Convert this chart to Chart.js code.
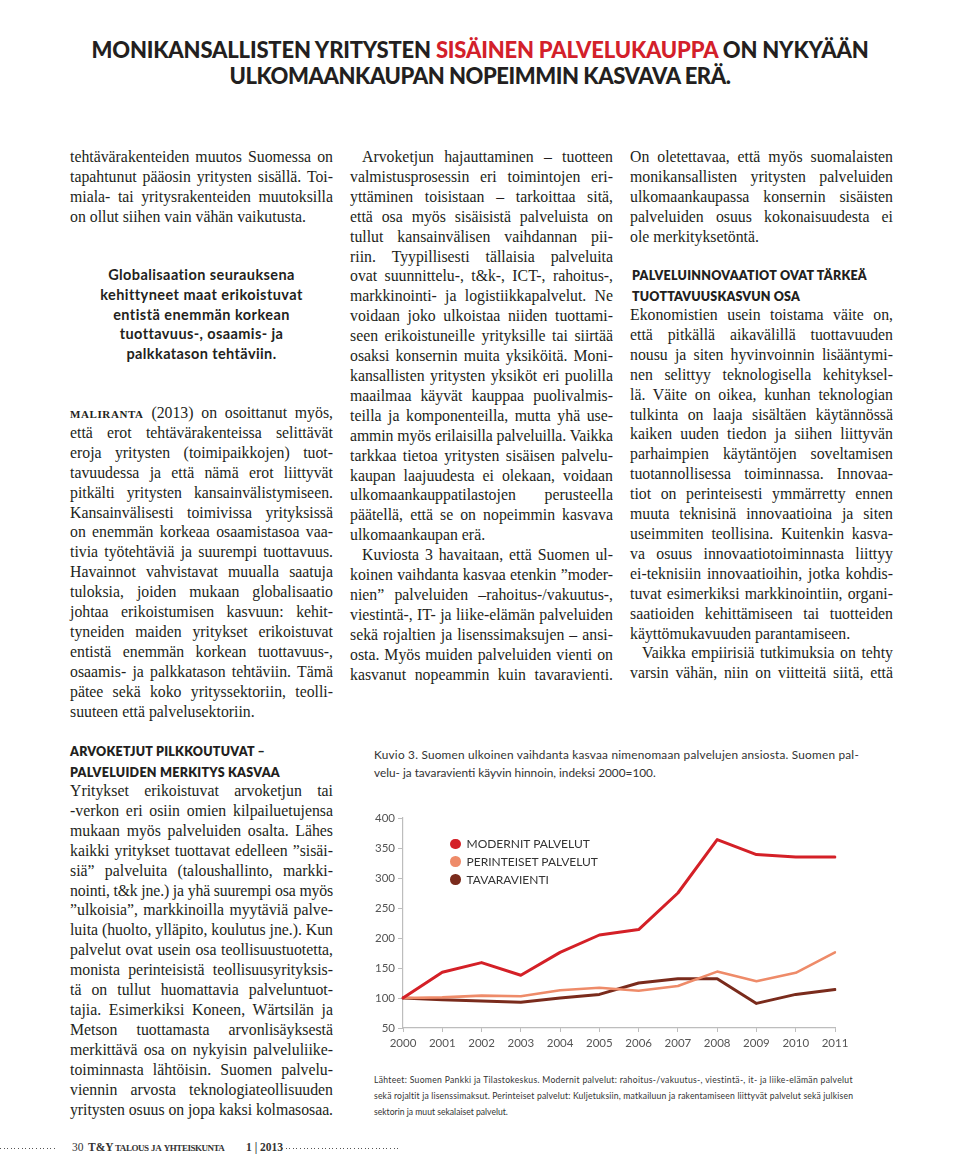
<!DOCTYPE html>
<html lang="fi">
<head>
<meta charset="utf-8">
<title>Kuvio 3</title>
<script src="https://cdn.jsdelivr.net/npm/chart.js@4.4.1/dist/chart.umd.min.js"></script>
<style>
  html, body { margin: 0; padding: 0; background: #fff; }
  body { width: 960px; height: 1157px; position: relative; overflow: hidden; color: #231f20; }
  .abs { position: absolute; }
  .title { left: 0; width: 960px; top: 37px; font-family: Lato, sans-serif; font-weight: 900; font-size: 22px; line-height: 26px; text-align: center; }
  .title .l { white-space: nowrap; }
  .red { color: #d3202a; }
  .col { font-family: "Liberation Serif", serif; font-size: 15.8px; line-height: 19.9px; width: 263px; }
  .col .l { white-space: nowrap; }
  .i { padding-left: 12px; }
  .sc { font-variant: small-caps; font-weight: bold; letter-spacing: 0.6px; }
  .quote { font-family: Lato, sans-serif; font-weight: 700; font-size: 14.5px; line-height: 19.8px; width: 263px; text-align: center; }
  .quote .l { white-space: nowrap; }
  .head { font-family: Lato, sans-serif; font-weight: 800; font-size: 12.5px; line-height: 21px; }
  .head .l { white-space: nowrap; }
  .cap { left: 374px; top: 746px; font-family: Lato, sans-serif; font-size: 11.8px; line-height: 18px; color: #333; }
  .cap .l, .src .l { white-space: nowrap; }
  .src { left: 374px; top: 1072px; font-family: Lato, sans-serif; font-size: 8.6px; line-height: 16px; color: #333; }
  #chartBox { left: 361px; top: 805px; width: 500px; height: 247px; }
  #legend { left: 450px; top: 835px; font-family: Lato, sans-serif; font-size: 12px; color: #333; }
  #legend div { height: 17.8px; line-height: 17.8px; white-space: nowrap; }
  #legend span { display: inline-block; width: 10.5px; height: 10.5px; border-radius: 50%; margin-right: 6px; vertical-align: -1px; }
  .foot { top: 1140px; font-family: "Liberation Serif", serif; font-size: 11.5px; line-height: 14px; color: #333; white-space: nowrap; }
  .dots { height: 1px; top: 1148px; background: repeating-linear-gradient(to right, #555 0 1px, transparent 1px 3.6px); }
</style>
</head>
<body>

<div class="abs title">
  <div class="l" data-w="777">MONIKANSALLISTEN YRITYSTEN <span class="red">SISÄINEN PALVELUKAUPPA</span> ON NYKYÄÄN</div>
  <div class="l" data-w="501">ULKOMAANKAUPAN NOPEIMMIN KASVAVA ERÄ.</div>
</div>

<!-- palsta 1 -->
<div class="abs col" style="left:70px; top:147px;">
  <div class="l j">tehtävärakenteiden muutos Suomessa on</div>
  <div class="l j">tapahtunut pääosin yritysten sisällä. Toi-</div>
  <div class="l j">miala- tai yritysrakenteiden muutoksilla</div>
  <div class="l">on ollut siihen vain vähän vaikutusta.</div>
</div>

<div class="abs quote" style="left:70px; top:265px;">
  <div class="l" data-w="187">Globalisaation seurauksena</div>
  <div class="l" data-w="202">kehittyneet maat erikoistuvat</div>
  <div class="l" data-w="177">entistä enemmän korkean</div>
  <div class="l" data-w="163">tuottavuus-, osaamis- ja</div>
  <div class="l" data-w="150">palkkatason tehtäviin.</div>
</div>

<div class="abs col" style="left:70px; top:403px;">
  <div class="l j"><span class="sc">maliranta</span> (2013) on osoittanut myös,</div>
  <div class="l j">että erot tehtävärakenteissa selittävät</div>
  <div class="l j">eroja yritysten (toimipaikkojen) tuot-</div>
  <div class="l j">tavuudessa ja että nämä erot liittyvät</div>
  <div class="l j">pitkälti yritysten kansainvälistymiseen.</div>
  <div class="l j">Kansainvälisesti toimivissa yrityksissä</div>
  <div class="l j">on enemmän korkeaa osaamistasoa vaa-</div>
  <div class="l j">tivia työtehtäviä ja suurempi tuottavuus.</div>
  <div class="l j">Havainnot vahvistavat muualla saatuja</div>
  <div class="l j">tuloksia, joiden mukaan globalisaatio</div>
  <div class="l j">johtaa erikoistumisen kasvuun: kehit-</div>
  <div class="l j">tyneiden maiden yritykset erikoistuvat</div>
  <div class="l j">entistä enemmän korkean tuottavuus-,</div>
  <div class="l j">osaamis- ja palkkatason tehtäviin. Tämä</div>
  <div class="l j">pätee sekä koko yrityssektoriin, teolli-</div>
  <div class="l">suuteen että palvelusektoriin.</div>
</div>

<div class="abs head" style="left:70px; top:741px;">
  <div class="l" data-w="195">ARVOKETJUT PILKKOUTUVAT –</div>
  <div class="l" data-w="210">PALVELUIDEN MERKITYS KASVAA</div>
</div>

<div class="abs col" style="left:70px; top:781px;">
  <div class="l j">Yritykset erikoistuvat arvoketjun tai</div>
  <div class="l j">-verkon eri osiin omien kilpailuetujensa</div>
  <div class="l j">mukaan myös palveluiden osalta. Lähes</div>
  <div class="l j">kaikki yritykset tuottavat edelleen ”sisäi-</div>
  <div class="l j">siä” palveluita (taloushallinto, markki-</div>
  <div class="l j">nointi, t&amp;k jne.) ja yhä suurempi osa myös</div>
  <div class="l j">”ulkoisia”, markkinoilla myytäviä palve-</div>
  <div class="l j">luita (huolto, ylläpito, koulutus jne.). Kun</div>
  <div class="l j">palvelut ovat usein osa teollisuustuotetta,</div>
  <div class="l j">monista perinteisistä teollisuusyrityksis-</div>
  <div class="l j">tä on tullut huomattavia palveluntuot-</div>
  <div class="l j">tajia. Esimerkiksi Koneen, Wärtsilän ja</div>
  <div class="l j">Metson tuottamasta arvonlisäyksestä</div>
  <div class="l j">merkittävä osa on nykyisin palveluliike-</div>
  <div class="l j">toiminnasta lähtöisin. Suomen palvelu-</div>
  <div class="l j">viennin arvosta teknologiateollisuuden</div>
  <div class="l j">yritysten osuus on jopa kaksi kolmasosaa.</div>
</div>

<!-- palsta 2 -->
<div class="abs col" style="left:350px; top:147px;">
  <div class="l j i">Arvoketjun hajauttaminen – tuotteen</div>
  <div class="l j">valmistusprosessin eri toimintojen eri-</div>
  <div class="l j">yttäminen toisistaan – tarkoittaa sitä,</div>
  <div class="l j">että osa myös sisäisistä palveluista on</div>
  <div class="l j">tullut kansainvälisen vaihdannan pii-</div>
  <div class="l j">riin. Tyypillisesti tällaisia palveluita</div>
  <div class="l j">ovat suunnittelu-, t&amp;k-, ICT-, rahoitus-,</div>
  <div class="l j">markkinointi- ja logistiikkapalvelut. Ne</div>
  <div class="l j">voidaan joko ulkoistaa niiden tuottami-</div>
  <div class="l j">seen erikoistuneille yrityksille tai siirtää</div>
  <div class="l j">osaksi konsernin muita yksiköitä. Moni-</div>
  <div class="l j">kansallisten yritysten yksiköt eri puolilla</div>
  <div class="l j">maailmaa käyvät kauppaa puolivalmis-</div>
  <div class="l j">teilla ja komponenteilla, mutta yhä use-</div>
  <div class="l j">ammin myös erilaisilla palveluilla. Vaikka</div>
  <div class="l j">tarkkaa tietoa yritysten sisäisen palvelu-</div>
  <div class="l j">kaupan laajuudesta ei olekaan, voidaan</div>
  <div class="l j">ulkomaankauppatilastojen perusteella</div>
  <div class="l j">päätellä, että se on nopeimmin kasvava</div>
  <div class="l">ulkomaankaupan erä.</div>
  <div class="l j i">Kuviosta 3 havaitaan, että Suomen ul-</div>
  <div class="l j">koinen vaihdanta kasvaa etenkin ”moder-</div>
  <div class="l j">nien” palveluiden –rahoitus-/vakuutus-,</div>
  <div class="l j">viestintä-, IT- ja liike-elämän palveluiden</div>
  <div class="l j">sekä rojaltien ja lisenssimaksujen – ansi-</div>
  <div class="l j">osta. Myös muiden palveluiden vienti on</div>
  <div class="l j">kasvanut nopeammin kuin tavaravienti.</div>
</div>

<!-- palsta 3 -->
<div class="abs col" style="left:630px; top:147px;">
  <div class="l j">On oletettavaa, että myös suomalaisten</div>
  <div class="l j">monikansallisten yritysten palveluiden</div>
  <div class="l j">ulkomaankaupassa konsernin sisäisten</div>
  <div class="l j">palveluiden osuus kokonaisuudesta ei</div>
  <div class="l">ole merkityksetöntä.</div>
</div>

<div class="abs head" style="left:632px; top:265px;">
  <div class="l" data-w="235">PALVELUINNOVAATIOT OVAT TÄRKEÄ</div>
  <div class="l" data-w="168">TUOTTAVUUSKASVUN OSA</div>
</div>

<div class="abs col" style="left:630px; top:305px;">
  <div class="l j">Ekonomistien usein toistama väite on,</div>
  <div class="l j">että pitkällä aikavälillä tuottavuuden</div>
  <div class="l j">nousu ja siten hyvinvoinnin lisääntymi-</div>
  <div class="l j">nen selittyy teknologisella kehityksel-</div>
  <div class="l j">lä. Väite on oikea, kunhan teknologian</div>
  <div class="l j">tulkinta on laaja sisältäen käytännössä</div>
  <div class="l j">kaiken uuden tiedon ja siihen liittyvän</div>
  <div class="l j">parhaimpien käytäntöjen soveltamisen</div>
  <div class="l j">tuotannollisessa toiminnassa. Innovaa-</div>
  <div class="l j">tiot on perinteisesti ymmärretty ennen</div>
  <div class="l j">muuta teknisinä innovaatioina ja siten</div>
  <div class="l j">useimmiten teollisina. Kuitenkin kasva-</div>
  <div class="l j">va osuus innovaatiotoiminnasta liittyy</div>
  <div class="l j">ei-teknisiin innovaatioihin, jotka kohdis-</div>
  <div class="l j">tuvat esimerkiksi markkinointiin, organi-</div>
  <div class="l j">saatioiden kehittämiseen tai tuotteiden</div>
  <div class="l">käyttömukavuuden parantamiseen.</div>
  <div class="l j i">Vaikka empiirisiä tutkimuksia on tehty</div>
  <div class="l j">varsin vähän, niin on viitteitä siitä, että</div>
</div>

<!-- kuvio -->
<div class="abs cap">
  <div class="l" data-w="485">Kuvio 3. Suomen ulkoinen vaihdanta kasvaa nimenomaan palvelujen ansiosta. Suomen pal-</div>
  <div class="l">velu- ja tavaravienti käyvin hinnoin, indeksi 2000=100.</div>
</div>

<div id="chartBox" class="abs"><canvas id="myChart" width="500" height="247"></canvas></div>
<div id="legend" class="abs"></div>

<div class="abs src">
  <div class="l" data-w="479">Lähteet: Suomen Pankki ja Tilastokeskus. Modernit palvelut: rahoitus-/vakuutus-, viestintä-, it- ja liike-elämän palvelut</div>
  <div class="l" data-w="479">sekä rojaltit ja lisenssimaksut. Perinteiset palvelut: Kuljetuksiin, matkailuun ja rakentamiseen liittyvät palvelut sekä julkisen</div>
  <div class="l">sektorin ja muut sekalaiset palvelut.</div>
</div>

<!-- alatunniste -->
<div class="abs dots" style="left:0; width:57px;"></div>
<div class="abs foot" style="left:72px;">30</div>
<div class="abs foot" style="left:88px; font-weight:bold;">T&amp;Y</div>
<div class="abs foot sc" style="left:115px; font-size:12.5px;" data-w="122">talous ja yhteiskunta</div>
<div class="abs foot" style="left:246px; font-weight:bold;">1 | 2013</div>
<div class="abs dots" style="left:282px; width:118px;"></div>

<script>
const years = ['2000', '2001', '2002', '2003', '2004', '2005', '2006', '2007', '2008', '2009', '2010', '2011'];
const seriesNames = ['MODERNIT PALVELUT', 'PERINTEISET PALVELUT', 'TAVARAVIENTI'];
const modernit = [100, 143, 159, 138, 176, 205, 214, 275, 364, 339, 335, 335];
const perinteiset = [100, 101, 104, 103, 113, 117, 112, 120, 144, 128, 142, 176];
const tavaravienti = [100, 97, 95, 93, 100, 106, 125, 132, 132, 91, 106, 114];
const seriesColors = ['#d42027', '#ee8b69', '#7a2b1c'];
const yTicks = [50, 100, 150, 200, 250, 300, 350, 400];

// justify each printed line to its column width
function fitLine(el, target, shrinkOnly) {
    el.style.letterSpacing = '';
    el.style.wordSpacing = '';
    let r = document.createRange();
    r.selectNodeContents(el);
    let w = r.getBoundingClientRect().width;
    let txt = el.textContent.trim();
    let spaces = (txt.match(/ /g) || []).length;
    let diff = target - w;
    if (diff < 0) {
        el.style.letterSpacing = (diff / txt.length) + 'px';
    } else if (!shrinkOnly && spaces) {
        el.style.wordSpacing = (diff / spaces) + 'px';
    }
}

function fitAll() {
    document.querySelectorAll('.col .l').forEach(el => {
        let cs = getComputedStyle(el);
        let target = 263 - parseFloat(cs.paddingLeft);
        fitLine(el, target, !el.classList.contains('j'));
    });
    document.querySelectorAll('[data-w]').forEach(el => {
        let target = parseFloat(el.dataset.w);
        let r = document.createRange();
        r.selectNodeContents(el);
        let w = r.getBoundingClientRect().width;
        let n = el.textContent.trim().length;
        el.style.letterSpacing = ((target - w) / n) + 'px';
    });
}

let legendBox = document.getElementById('legend');
seriesNames.forEach((name, i) => {
    legendBox.innerHTML += `<div><span style="background:${seriesColors[i]}"></span>${name}</div>`;
});

const tickFont = { family: 'Lato', size: 11.5 };

const data = {
    labels: years,
    datasets: [{
        label: seriesNames[0],
        data: modernit,
        borderColor: seriesColors[0],
        borderWidth: 3
    }, {
        label: seriesNames[1],
        data: perinteiset,
        borderColor: seriesColors[1],
        borderWidth: 2.6
    }, {
        label: seriesNames[2],
        data: tavaravienti,
        borderColor: seriesColors[2],
        borderWidth: 3
    }]
};

const config = {
    type: 'line',
    data,
    options: {
        responsive: false,
        animation: false,
        devicePixelRatio: 1,
        layout: { padding: { top: 13, right: 26, left: 0, bottom: 0 } },
        elements: {
            point: { radius: 0 },
            line: { tension: 0, borderJoinStyle: 'round', borderCapStyle: 'round', fill: false }
        },
        plugins: { legend: { display: false }, tooltip: { enabled: false } },
        scales: {
            x: {
                offset: false,
                grid: { drawOnChartArea: false, tickLength: 4, color: '#bdbdbd' },
                border: { color: '#bdbdbd', width: 1.2 },
                ticks: { font: tickFont, color: '#555', padding: 4, maxRotation: 0, autoSkip: false },
                afterFit: scale => { scale.height = 24; }
            },
            y: {
                min: 50,
                max: 400,
                afterBuildTicks: scale => { scale.ticks = yTicks.map(v => ({ value: v })); },
                grid: { drawOnChartArea: false, tickLength: 5, color: '#bdbdbd' },
                border: { color: '#bdbdbd', width: 1.2 },
                ticks: { font: tickFont, color: '#555', padding: 3 },
                afterFit: scale => { scale.width = 42; }
            }
        }
    }
};

document.fonts.ready.then(() => {
    fitAll();
    new Chart(document.getElementById('myChart'), config);
});
</script>
</body>
</html>
